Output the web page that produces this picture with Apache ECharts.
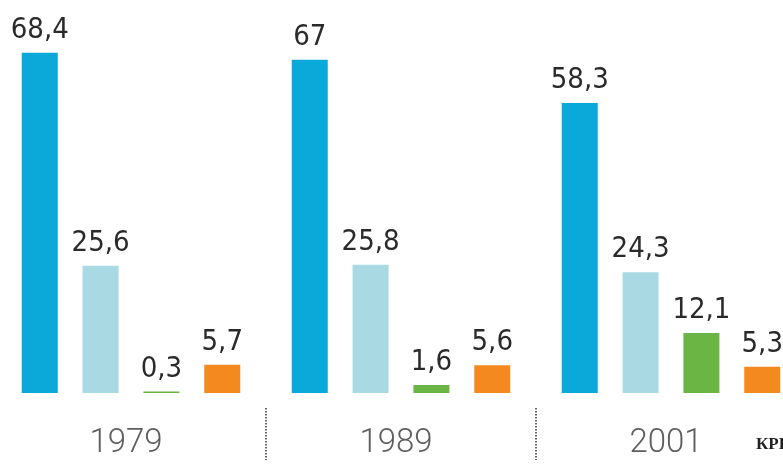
<!DOCTYPE html>
<html>
<head>
<meta charset="utf-8">
<script src="https://cdn.jsdelivr.net/npm/echarts@6/dist/echarts.min.js"></script>
<style>html,body{margin:0;padding:0;background:#fff}#c{width:783px;height:465px}</style>
</head>
<body>
<div id="c"></div>
<script>
const years = ['1979', '1989', '2001'];
const seriesA = [68.4, 67, 58.3];
const seriesB = [25.6, 25.8, 24.3];
const seriesC = [0.3, 1.6, 12.1];
const seriesD = [5.7, 5.6, 5.3];
const colors = ['#0aa9d9', '#a9d9e2', '#6bb545', '#f4891f'];

const chart = echarts.init(document.getElementById('c'));
const labelFont = {
  show: true, position: 'top', distance: 8,
  formatter: p => String(p.value).replace('.', ','),
  fontFamily: '"Liberation Sans Narrow","DejaVu Sans Condensed",sans-serif',
  fontSize: 29, color: '#2a2a2a'
};
function mk(name, data, color) {
  return { name, type: 'bar', data, barWidth: 36, barGap: '69%', barCategoryGap: '19%',
    itemStyle: { color }, label: labelFont, animation: false };
}
chart.setOption({
  animation: false,
  grid: { left: -4, width: 810, top: 20, bottom: 57, containLabel: false, outerBoundsMode: 'none' },
  xAxis: {
    type: 'category', data: years, boundaryGap: true,
    axisLine: { show: false, onZero: false },
    axisTick: { show: true, length: 52, lineStyle: { type: 'dotted', color: '#333', width: 1.5 } },
    axisLabel: { margin: 19, padding: [0, 10, 0, 0], fontFamily: 'Roboto, sans-serif', fontWeight: 300, fontSize: 33, color: '#5e5e5e' }
  },
  yAxis: { type: 'value', min: -3, max: 75, show: false, splitLine: { show: false } },
  series: [
    mk('a', seriesA, colors[0]),
    mk('b', seriesB, colors[1]),
    mk('c', seriesC, colors[2]),
    mk('d', seriesD, colors[3])
  ],
  graphic: [{
    type: 'text', left: 756, top: 436,
    style: { text: 'КРИ', font: 'bold 17px "Liberation Serif", serif', fill: '#222' }
  }]
});
</script>
</body>
</html>
